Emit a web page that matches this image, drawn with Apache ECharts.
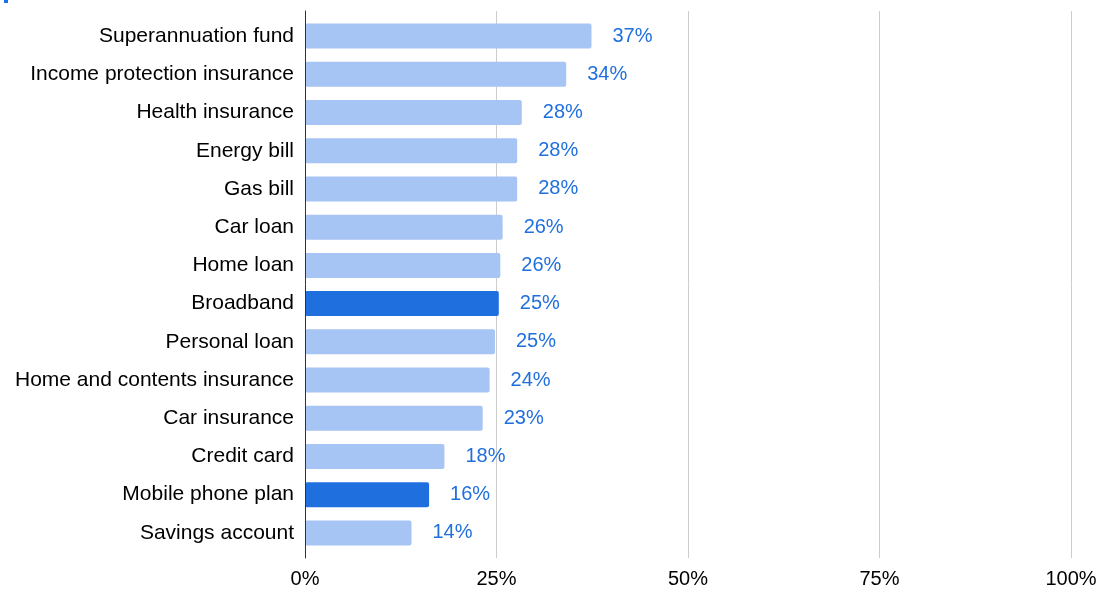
<!DOCTYPE html>
<html>
<head>
<meta charset="utf-8">
<script src="https://cdn.jsdelivr.net/npm/echarts@6/dist/echarts.min.js"></script>
<style>html,body{margin:0;padding:0;background:#fff;}#c{width:1103px;height:590px;}</style>
</head>
<body>
<div id="c"></div>
<script>
const categories = ["Superannuation fund","Income protection insurance","Health insurance","Energy bill","Gas bill","Car loan","Home loan","Broadband","Personal loan","Home and contents insurance","Car insurance","Credit card","Mobile phone plan","Savings account"];
const values = [37.4, 34.1, 28.3, 27.7, 27.7, 25.8, 25.5, 25.3, 24.8, 24.1, 23.2, 18.2, 16.2, 13.9];
const highlighted = ["Broadband","Mobile phone plan"];
const xTicks = [0, 25, 50, 75, 100];

const LIGHT = '#a6c4f4', DARK = '#1f6fde', LABEL = '#1f6fde';
const chart = echarts.init(document.getElementById('c'), null, {renderer:'canvas'});
const font = '"Liberation Sans", Arial, Helvetica, sans-serif';
chart.setOption({
  animation: false,
  textStyle: {fontFamily: font},
  graphic: [{type:'rect', shape:{x:4,y:0,width:4,height:3}, style:{fill:'#1a73e8'}}],
  grid: [
    {left: 305, right: 32, top: 11, height: 547},
    {left: 305, right: 32, top: 17, height: 535}
  ],
  xAxis: [
    {gridIndex:0, type:'value', min:xTicks[0], max:xTicks[xTicks.length-1], interval:25,
     axisLine:{show:false}, axisTick:{show:false},
     splitLine:{show:true, lineStyle:{color:'#cccccc', width:1}},
     axisLabel:{fontSize:20, color:'#000', margin:11, fontFamily:font, formatter: v => v + '%'}},
    {gridIndex:1, type:'value', min:0, max:100, show:false, splitLine:{show:false}}
  ],
  yAxis: [
    {gridIndex:0, type:'value', min:0, max:1, z:10, axisLine:{show:true, lineStyle:{color:'#333', width:1}},
     axisTick:{show:false}, axisLabel:{show:false}, splitLine:{show:false}},
    {gridIndex:1, type:'category', inverse:true, data:categories,
     axisLine:{show:false}, axisTick:{show:false}, splitLine:{show:false},
     axisLabel:{fontSize:21, color:'#000', margin:11, fontFamily:font}}
  ],
  series: [{
    type:'bar', xAxisIndex:1, yAxisIndex:1,
    barWidth: 25,
    data: values.map((v,i) => ({value:v, itemStyle:{color: highlighted.includes(categories[i]) ? DARK : LIGHT, borderRadius:2}})),
    label: {show:true, position:'right', distance:21, color:LABEL, fontSize:20, fontFamily:font,
            formatter: p => Math.round(p.value) + '%'}
  }]
});
</script>
</body>
</html>
